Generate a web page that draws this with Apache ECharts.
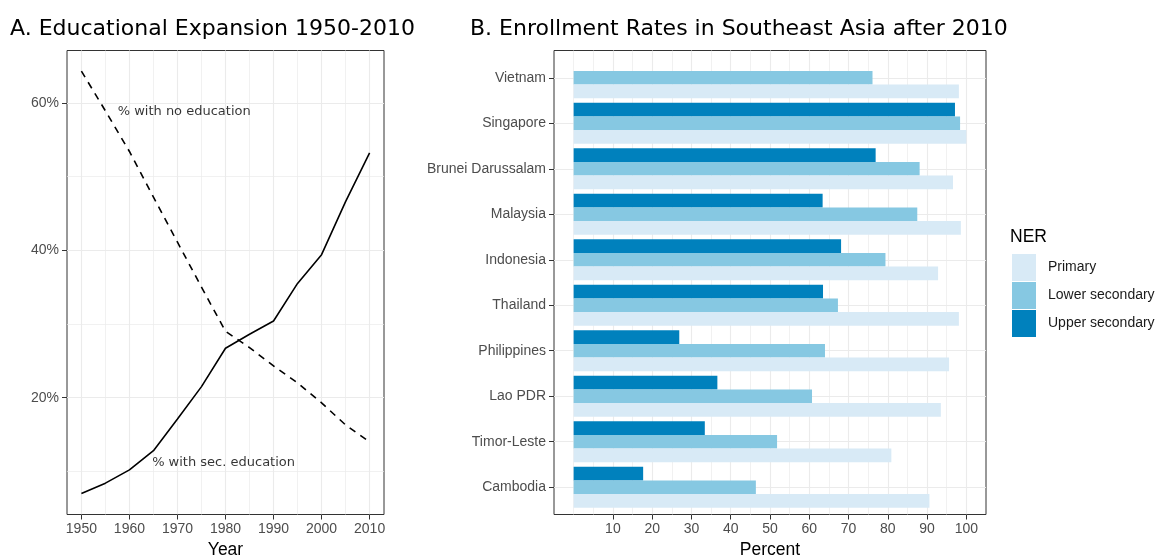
<!DOCTYPE html>
<html><head><meta charset="utf-8">
<script src="https://cdn.jsdelivr.net/npm/echarts@6/dist/echarts.min.js"></script>
<style>html,body{margin:0;padding:0;background:#fff}#c{width:1160px;height:555px}</style>
</head><body><div id="c"></div>
<script>
// ---- Panel A data ----
const years = [1950,1955,1960,1965,1970,1975,1980,1985,1990,1995,2000,2005,2010];
const secEducation = [7.0, 8.4, 10.2, 12.8, 17.1, 21.5, 26.7, 28.6, 30.4, 35.5, 39.4, 46.6, 53.2];
const noEducation  = [64.3, 58.9, 53.4, 47.2, 41.1, 35.0, 29.0, 26.8, 24.3, 22.0, 19.3, 16.3, 14.0];
const annotationText = ['% with no education', '% with sec. education'];
const annotationX = [1971.4, 1979.6];
const annotationY = [58.8, 11.2];
const yearTicks = [1950,1960,1970,1980,1990,2000,2010];
const yearMinor = [1955,1965,1975,1985,1995,2005];
const pctTicks = [20,40,60];
const pctMinor = [10,30,50];

// ---- Panel B data ----
const countries = ['Vietnam','Singapore','Brunei Darussalam','Malaysia','Indonesia','Thailand','Philippines','Lao PDR','Timor-Leste','Cambodia'];
const primary        = [98.1, 100, 96.6, 98.6, 92.8, 98.1, 95.6, 93.5, 80.9, 90.6];
const lowerSecondary = [76.1, 98.4, 88.1, 87.5, 79.4, 67.3, 64.0, 60.7, 51.8, 46.4];
const upperSecondary = [null, 97.1, 76.9, 63.4, 68.1, 63.5, 26.9, 36.6, 33.4, 17.7];
const percentTicks = [10,20,30,40,50,60,70,80,90,100];
const percentMinor = [0,5,15,25,35,45,55,65,75,85,95];
const legendNames = ['Primary','Lower secondary','Upper secondary'];

const sansText = 'Liberation Sans';
const verdanaLike = 'DejaVu Sans';
const gridColor = '#EBEBEB';
const frameColor = '#333333';
const tickLabel = {fontFamily: sansText, fontSize: 14, color: '#4D4D4D', margin: 8};

function majorAxis(base) {
  return Object.assign({
    axisLine: {show: false, onZero: false},
    axisTick: {show: true, length: 5, lineStyle: {color: frameColor, width: 1}},
    splitLine: {show: true, lineStyle: {color: gridColor, width: 1.1}}
  }, base);
}
function minorAxis(base) {
  return Object.assign({
    show: true,
    axisLine: {show: false, onZero: false},
    axisTick: {show: false},
    axisLabel: {show: false},
    splitLine: {show: true, lineStyle: {color: gridColor, width: 0.7}}
  }, base);
}

const chart = echarts.init(document.getElementById('c'), null, {renderer: 'canvas'});
chart.setOption({
  animation: false,
  backgroundColor: '#fff',
  title: [
    {text: 'A. Educational Expansion 1950-2010', left: 10, top: 18, padding: 0,
     textStyle: {fontFamily: verdanaLike, fontSize: 22, fontWeight: 'normal', color: '#000'}},
    {text: 'B. Enrollment Rates in Southeast Asia after 2010', left: 470, top: 18, padding: 0,
     textStyle: {fontFamily: verdanaLike, fontSize: 22, fontWeight: 'normal', color: '#000'}},
    {text: 'NER', left: 1010, top: 228, padding: 0,
     textStyle: {fontFamily: sansText, fontSize: 17.5, fontWeight: 'normal', color: '#000'}}
  ],
  legend: {
    data: legendNames, orient: 'vertical', left: 1012, top: 254, padding: 0,
    itemWidth: 24, itemHeight: 27, itemGap: 1, icon: 'rect',
    textStyle: {fontFamily: sansText, fontSize: 14, color: '#1A1A1A', padding: [0,0,0,7]}
  },
  grid: [
    {left: 67, right: 776, top: 50.5, bottom: 40.5, outerBoundsMode: 'none', containLabel: false,
     show: true, borderColor: frameColor, borderWidth: 1, backgroundColor: 'transparent'},
    {left: 554, right: 174, top: 50.5, bottom: 40.5, outerBoundsMode: 'none', containLabel: false,
     show: true, borderColor: frameColor, borderWidth: 1, backgroundColor: 'transparent'},
    {left: 554, right: 174, top: 55.05, bottom: 45.05, outerBoundsMode: 'none', containLabel: false, show: false}
  ],
  xAxis: [
    majorAxis({type: 'value', gridIndex: 0, min: 1947, max: 2013, position: 'bottom',
      axisTick: {show: true, length: 5, customValues: yearTicks, lineStyle: {color: frameColor}},
      axisLabel: Object.assign({customValues: yearTicks, formatter: v => String(v)}, tickLabel),
      name: 'Year', nameLocation: 'middle', nameGap: 24,
      nameTextStyle: {fontFamily: sansText, fontSize: 17.5, color: '#000'}}),
    minorAxis({type: 'value', gridIndex: 0, min: 1947, max: 2013, position: 'bottom',
      axisTick: {show: false, customValues: yearMinor}}),
    majorAxis({type: 'value', gridIndex: 1, min: -5, max: 105, position: 'bottom',
      axisTick: {show: true, length: 5, customValues: percentTicks, lineStyle: {color: frameColor}},
      axisLabel: Object.assign({customValues: percentTicks}, tickLabel),
      name: 'Percent', nameLocation: 'middle', nameGap: 24,
      nameTextStyle: {fontFamily: sansText, fontSize: 17.5, color: '#000'}}),
    minorAxis({type: 'value', gridIndex: 1, min: -5, max: 105, position: 'bottom',
      axisTick: {show: false, customValues: percentMinor}}),
    {type: 'value', gridIndex: 2, min: -5, max: 105, show: false}
  ],
  yAxis: [
    majorAxis({type: 'value', gridIndex: 0, min: 4.15, max: 67.1, position: 'left',
      axisTick: {show: true, length: 5, customValues: pctTicks, lineStyle: {color: frameColor}},
      axisLabel: Object.assign({customValues: pctTicks, formatter: '{value}%'}, tickLabel)}),
    minorAxis({type: 'value', gridIndex: 0, min: 4.15, max: 67.1, position: 'left',
      axisTick: {show: false, customValues: pctMinor}}),
    majorAxis({type: 'value', gridIndex: 1, min: -0.6, max: 9.6, inverse: true, position: 'left',
      axisTick: {show: true, length: 5, customValues: countries.map((c, i) => i), lineStyle: {color: frameColor}},
      axisLabel: Object.assign({customValues: countries.map((c, i) => i), formatter: v => countries[v]}, tickLabel)}),
    {type: 'category', gridIndex: 2, data: countries, inverse: true, show: false}
  ],
  series: [
    {type: 'line', name: '% with sec. education', xAxisIndex: 0, yAxisIndex: 0,
     data: years.map((y, i) => [y, secEducation[i]]), symbol: 'none',
     lineStyle: {color: '#000', width: 1.6}, z: 3},
    {type: 'line', name: '% with no education', xAxisIndex: 0, yAxisIndex: 0,
     data: years.map((y, i) => [y, noEducation[i]]), symbol: 'none',
     lineStyle: {color: '#000', width: 1.6, type: [7, 6]}, z: 3},
    {type: 'scatter', name: 'labels', xAxisIndex: 0, yAxisIndex: 0, symbolSize: 0, silent: true,
     data: annotationText.map((t, i) => ({name: t, value: [annotationX[i], annotationY[i]]})),
     label: {show: true, position: 'inside', formatter: p => p.name,
       fontFamily: verdanaLike, fontSize: 13, color: '#000'}},
    {type: 'bar', name: 'Upper secondary', xAxisIndex: 4, yAxisIndex: 3, data: upperSecondary,
     barCategoryGap: '10%', barGap: '0%', itemStyle: {color: '#0081BD'}},
    {type: 'bar', name: 'Lower secondary', xAxisIndex: 4, yAxisIndex: 3, data: lowerSecondary,
     barCategoryGap: '10%', barGap: '0%', itemStyle: {color: '#86C8E2'}},
    {type: 'bar', name: 'Primary', xAxisIndex: 4, yAxisIndex: 3, data: primary,
     barCategoryGap: '10%', barGap: '0%', itemStyle: {color: '#D8EAF6'}}
  ]
});
</script>
</body></html>
